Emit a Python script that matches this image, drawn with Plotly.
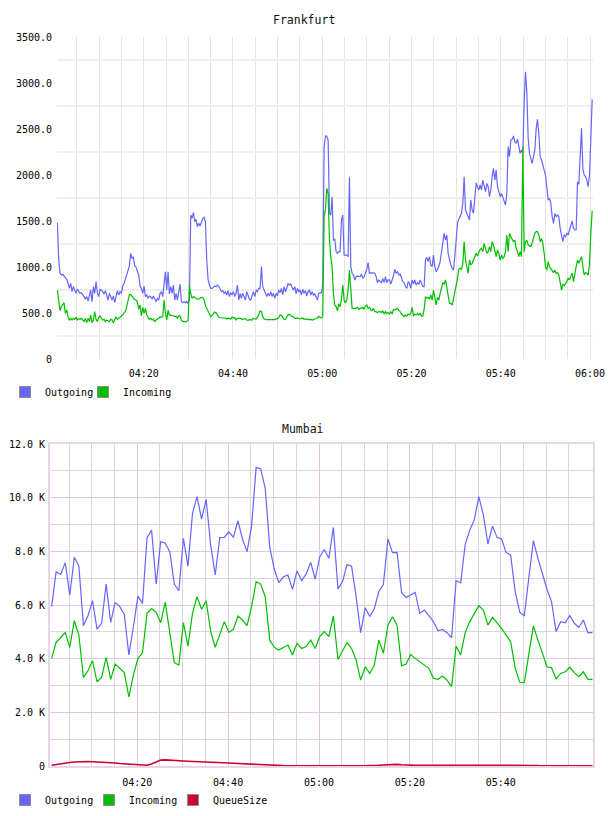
import numpy as np
import pandas as pd
import plotly.graph_objects as go

# ---------------- Frankfurt (top) ----------------
fra_start = "2024-01-01 04:00:39"
fra_step_seconds = 17.93

fra_out = [
    1482, 1076, 931, 913, 920, 900, 880, 866, 822, 768,
    822, 732, 786, 743, 714, 761, 732, 714, 721, 703,
    678, 649, 678, 630, 678, 750, 623, 786, 714, 841,
    721, 678, 757, 750, 732, 707, 743, 678, 641, 714,
    678, 641, 685, 612, 678, 743, 696, 732, 714, 793,
    822, 866, 924, 975, 1011, 1148, 1094, 1105, 1011, 996,
    949, 913, 793, 768, 714, 793, 678, 696, 659, 685,
    678, 649, 685, 659, 623, 659, 641, 714, 732, 678,
    786, 949, 750, 949, 707, 786, 714, 804, 641, 714,
    641, 750, 815, 623, 612, 623, 612, 623, 605, 641,
    1565, 1529, 1591, 1493, 1518, 1438, 1475, 1446, 1493, 1529,
    1540, 1493, 1076, 866, 804, 768, 768, 786, 793, 786,
    804, 793, 750, 732, 743, 714, 732, 696, 743, 678,
    721, 696, 732, 678, 714, 804, 641, 714, 659, 714,
    678, 641, 732, 685, 649, 641, 696, 732, 678, 750,
    732, 768, 768, 1004, 786, 750, 714, 678, 714, 685,
    732, 678, 714, 659, 714, 685, 750, 721, 768, 696,
    786, 732, 768, 822, 804, 815, 779, 750, 786, 707,
    768, 732, 750, 696, 757, 714, 743, 685, 732, 750,
    696, 732, 696, 707, 678, 641, 714, 721, 721, 804,
    2300, 2424, 2424, 2380, 1583, 1565, 1764, 1293, 1300, 1167,
    1149, 1167, 1167, 1511, 1565, 1130, 1130, 1130, 1112, 1975,
    1004, 931, 913, 859, 895, 902, 895, 895, 924, 877,
    895, 931, 975, 1047, 931, 938, 931, 938, 931, 895,
    830, 859, 841, 830, 877, 830, 895, 830, 859, 859,
    815, 859, 902, 975, 931, 949, 913, 924, 877, 841,
    830, 786, 768, 841, 822, 768, 859, 815, 859, 804,
    830, 815, 859, 815, 786, 786, 1076, 1105, 1058, 1112,
    1022, 1004, 1130, 1004, 949, 975, 1004, 1058, 1149, 1275,
    1366, 1293, 1348, 1149, 1076, 1022, 986, 967, 1112, 1293,
    1474, 1518, 1547, 1583, 1692, 1982, 1620, 1583, 1547, 1511,
    1728, 1620, 1583, 1800, 1916, 1873, 1837, 1891, 1837, 1945,
    1873, 1818, 1909, 1873, 1764, 1837, 1982, 2072, 1945, 2054,
    1873, 1800, 1764, 1800, 1764, 1728, 1673, 1800, 2308, 2199,
    2380, 2388, 2424, 2362, 2344, 2388, 2290, 2235, 2271, 2235,
    2800, 3123, 2900, 2400, 2235, 2181, 2126, 2199, 2271, 2500,
    2605, 2450, 2199, 2163, 2091, 2054, 2000, 1873, 1728, 1746,
    1692, 1547, 1473, 1583, 1547, 1565, 1547, 1420, 1330, 1275,
    1348, 1330, 1366, 1348, 1402, 1456, 1500, 1420, 1402, 1402,
    1927, 1900, 2300, 2507, 2072, 2000, 1982, 1945, 1873, 2000,
    2400, 2822,
]

fra_in = [
    750, 623, 525, 569, 587, 612, 496, 533, 460, 424,
    442, 424, 442, 431, 453, 424, 438, 431, 442, 424,
    406, 442, 395, 442, 406, 478, 395, 424, 514, 431,
    406, 453, 467, 442, 424, 431, 406, 424, 417, 406,
    431, 424, 395, 424, 460, 431, 442, 453, 460, 478,
    504, 514, 569, 623, 700, 700, 678, 660, 645, 641,
    620, 540, 587, 470, 560, 496, 551, 478, 460, 431,
    442, 424, 431, 406, 424, 431, 442, 460, 453, 460,
    641, 500, 424, 530, 478, 480, 470, 470, 460, 465,
    440, 470, 470, 420, 406, 406, 406, 406, 420, 793,
    714, 659, 678, 665, 660, 654, 650, 660, 670, 668,
    645, 580, 545, 528, 480, 460, 475, 497, 510, 500,
    475, 456, 448, 448, 448, 445, 445, 435, 445, 442,
    433, 455, 445, 450, 424, 442, 445, 442, 438, 428,
    437, 436, 424, 420, 428, 424, 424, 442, 438, 433,
    455, 480, 523, 515, 460, 436, 428, 428, 424, 424,
    428, 428, 428, 428, 436, 436, 449, 478, 475, 451,
    433, 428, 455, 483, 484, 469, 463, 460, 442, 442,
    446, 440, 436, 442, 446, 431, 433, 437, 428, 433,
    430, 424, 428, 438, 442, 446, 463, 449, 445, 460,
    1547, 1620, 1855, 1800, 1300, 1112, 1000, 714, 587, 569,
    525, 600, 569, 650, 804, 640, 610, 640, 750, 967,
    750, 551, 551, 551, 551, 562, 540, 551, 551, 562,
    540, 575, 587, 551, 562, 533, 525, 551, 515, 515,
    504, 515, 515, 504, 525, 489, 515, 496, 504, 489,
    515, 489, 540, 533, 540, 551, 525, 515, 489, 478,
    460, 478, 467, 489, 478, 496, 562, 467, 489, 478,
    496, 478, 496, 467, 467, 540, 678, 660, 670, 650,
    696, 640, 750, 670, 587, 670, 640, 714, 760, 830,
    815, 859, 780, 660, 605, 605, 587, 650, 720, 800,
    877, 975, 986, 975, 1030, 1275, 1076, 1000, 931, 1076,
    1022, 1040, 1076, 1112, 1149, 1120, 1167, 1192, 1203, 1167,
    1257, 1185, 1149, 1167, 1222, 1167, 1275, 1239, 1185, 1112,
    1185, 1149, 1076, 1130, 1094, 1112, 1167, 1348, 1167, 1366,
    1330, 1293, 1275, 1293, 1203, 1167, 1112, 1167, 1112, 2308,
    1167, 1275, 1293, 1239, 1228, 1222, 1264, 1330, 1366, 1384,
    1384, 1348, 1275, 1311, 1257, 1149, 1004, 967, 1058, 1004,
    975, 960, 938, 967, 931, 938, 913, 830, 750, 815,
    793, 822, 841, 877, 859, 902, 931, 841, 949, 1004,
    1076, 1040, 1076, 1112, 1004, 913, 938, 931, 913, 1040,
    1366, 1612,
]

fra_ytickvals = [0, 500, 1000, 1500, 2000, 2500, 3000, 3500]
fra_yticktext = ["0", "500.0", "1000.0", "1500.0", "2000.0", "2500.0", "3000.0", "3500.0"]

# ---------------- Mumbai (bottom) ----------------
mum_start = "2024-01-01 04:01:10"

mum_out = [
    5940, 7240, 7140, 7580, 6370, 7780, 7450, 5230, 5600, 6160,
    5100, 5320, 6780, 5350, 6100, 5940, 5650, 4140, 5190, 6330,
    6060, 8510, 8790, 6780, 8360, 8300, 7990, 6780, 6530, 8480,
    7450, 9410, 10040, 9200, 9940, 8230, 7120, 8510, 8520, 8730,
    8520, 9140, 8450, 7990, 8940, 11130, 11070, 10350, 8150, 7330,
    6830, 7050, 7120, 6580, 7270, 6910, 7150, 7590, 6970, 7800,
    8070, 7740, 8890, 6600, 6870, 7510, 7450, 6310, 4970, 5900,
    5570, 5870, 6500, 6770, 8460, 7950, 7960, 6460, 6280, 6370,
    6470, 5690, 5810, 5600, 5380, 5040, 5090, 4970, 4780, 6910,
    6830, 8260, 8790, 9170, 10040, 9350, 8270, 8940, 8520, 8460,
    7960, 7860, 6500, 5730, 5590, 7030, 8400, 7740, 7120, 6580,
    6120, 5010, 5380, 5340, 5600, 5320, 5170, 5440, 4970, 4970,
]

mum_in = [
    4010, 4610, 4790, 4980, 4420, 5420, 4880, 3300, 3550, 3920,
    3140, 3300, 4050, 3230, 3800, 3640, 3480, 2580, 3390, 4010,
    4220, 5690, 5870, 5730, 5340, 6100, 4980, 3850, 3760, 5340,
    4470, 5690, 6310, 5840, 6160, 5010, 4420, 4880, 5380, 4980,
    5090, 5590, 5440, 5230, 5940, 6870, 6780, 6310, 4690, 4420,
    4320, 4420, 4510, 4140, 4570, 4380, 4450, 4690, 4380, 4820,
    5010, 4820, 5590, 3970, 4280, 4600, 4380, 3950, 3200, 3700,
    3450, 3760, 4690, 4200, 5250, 5560, 5250, 3730, 3800, 4160,
    4010, 3890, 3790, 3640, 3270, 3230, 3350, 3200, 2960, 4470,
    4140, 4970, 5380, 5690, 5970, 5810, 5250, 5540, 5340, 5130,
    4880, 4630, 3640, 3120, 3110, 4140, 5220, 4690, 4160, 3700,
    3660, 3240, 3450, 3510, 3680, 3480, 3330, 3510, 3230, 3230,
]

mum_queue = [
    30, 60, 90, 110, 130, 150, 160, 165, 165, 160,
    155, 145, 135, 120, 110, 95, 80, 65, 50, 35,
    20, 30, 75, 160, 220, 230, 225, 215, 200, 185,
    175, 170, 170, 165, 155, 145, 135, 125, 115, 110,
    100, 90, 80, 75, 70, 70, 60, 45, 35, 25,
    20, 15, 12, 10, 10, 10, 10, 10, 10, 10,
    10, 10, 10, 10, 10, 10, 10, 10, 10, 10,
    10, 15, 25, 40, 55, 65, 60, 45, 30, 25,
    25, 30, 30, 25, 25, 30, 25, 20, 25, 30,
    35, 35, 35, 35, 40, 40, 45, 45, 40, 40,
    35, 30, 25, 20, 20, 25, 20, 15, 10, 10,
    10, 10, 10, 10, 10, 10, 10, 10, 10, 10,
]

mum_ytickvals = [0, 2000, 4000, 6000, 8000, 10000, 12000]
mum_yticktext = ["0", "2.0 K", "4.0 K", "6.0 K", "8.0 K", "10.0 K", "12.0 K"]

# ---------------- colours / fonts ----------------
C_OUT = "#6666ff"
C_IN = "#00bf00"
C_Q = "#cc0033"
MONO = "DejaVu Sans Mono"

W, H = 608, 816


def px_x(p):
    return p / W


def px_y(p):
    return 1 - p / H


fra_times = pd.Timestamp(fra_start) + pd.to_timedelta(np.arange(len(fra_out)) * fra_step_seconds, unit="s")
mum_times = pd.date_range(mum_start, periods=len(mum_out), freq="1min")

fmt = "%Y-%m-%d %H:%M:%S"
fra_major = [t.strftime(fmt) for t in pd.date_range("2024-01-01 04:20", "2024-01-01 06:00", freq="20min")]
fra_minor = [t.strftime(fmt) for t in pd.date_range("2024-01-01 04:05", "2024-01-01 06:00", freq="5min")]
mum_major = [t.strftime(fmt) for t in pd.date_range("2024-01-01 04:20", "2024-01-01 05:40", freq="20min")]
mum_minor = [t.strftime(fmt) for t in pd.date_range("2024-01-01 04:05", "2024-01-01 05:55", freq="5min")
             if t.minute % 20 != 0]

fig = go.Figure()

# top lines
fig.add_trace(go.Scatter(x=fra_times, y=fra_out, mode="lines", line=dict(color=C_OUT, width=1.2),
                         xaxis="x", yaxis="y", showlegend=False, name="Outgoing"))
fig.add_trace(go.Scatter(x=fra_times, y=fra_in, mode="lines", line=dict(color=C_IN, width=1.2),
                         xaxis="x", yaxis="y", showlegend=False, name="Incoming"))
# bottom lines
fig.add_trace(go.Scatter(x=mum_times, y=mum_out, mode="lines", line=dict(color=C_OUT, width=1.2),
                         xaxis="x2", yaxis="y2", showlegend=False, name="Outgoing"))
fig.add_trace(go.Scatter(x=mum_times, y=mum_in, mode="lines", line=dict(color=C_IN, width=1.2),
                         xaxis="x2", yaxis="y2", showlegend=False, name="Incoming"))
fig.add_trace(go.Scatter(x=mum_times, y=mum_queue, mode="lines", line=dict(color=C_Q, width=1.6),
                         xaxis="x2", yaxis="y2", showlegend=False, name="QueueSize"))


# legend entries (square swatches), one legend box per entry for exact placement
def legend_entry(name, color, legend, xa, ya):
    fig.add_trace(go.Scatter(x=[None], y=[None], mode="markers", name=name,
                             marker=dict(symbol="square", size=11, color=color,
                                         line=dict(color="#8c8c8c", width=1)),
                             xaxis=xa, yaxis=ya, legend=legend, showlegend=True))


legend_entry("Outgoing", C_OUT, "legend", "x", "y")
legend_entry("Incoming", C_IN, "legend2", "x", "y")
legend_entry("Outgoing", C_OUT, "legend3", "x2", "y2")
legend_entry("Incoming", C_IN, "legend4", "x2", "y2")
legend_entry("QueueSize", C_Q, "legend5", "x2", "y2")

tickfont = dict(family=MONO, size=10, color="#000000")


def leg(square_center_x, center_y):
    return dict(orientation="h", x=px_x(square_center_x - 24), y=px_y(center_y),
                xanchor="left", yanchor="middle",
                font=dict(family=MONO, size=10, color="#000000"), bgcolor="rgba(0,0,0,0)",
                itemwidth=30, itemclick=False, itemdoubleclick=False)


fig.update_layout(
    width=W, height=H,
    margin=dict(l=0, r=0, t=0, b=0, pad=0, autoexpand=False),
    paper_bgcolor="white", plot_bgcolor="white",
    font=dict(family=MONO, size=10, color="#000000"),
    xaxis=dict(domain=[px_x(57), px_x(593)], anchor="y", type="date",
               range=["2024-01-01 04:00:34", "2024-01-01 06:00:40"],
               tickmode="array", tickvals=fra_major, tickformat="%H:%M",
               showgrid=True, gridcolor="#e3e3e3", gridwidth=1,
               minor=dict(tickmode="array", tickvals=fra_minor, showgrid=True,
                          gridcolor="#e3e3e3", gridwidth=1),
               zeroline=False, showline=False, ticks="", tickfont=tickfont,
               ticklabelstandoff=7, fixedrange=True),
    yaxis=dict(domain=[px_y(359), px_y(37)], anchor="x",
               range=[0, 3500], tickmode="array", tickvals=fra_ytickvals, ticktext=fra_yticktext,
               showgrid=False,
               minor=dict(tickmode="array", tickvals=[250, 750, 1250, 1750, 2250, 2750, 3250],
                          showgrid=True, gridcolor="#efefef", gridwidth=2),
               zeroline=False, showline=False, ticks="", tickfont=tickfont,
               ticklabelstandoff=4, fixedrange=True),
    xaxis2=dict(domain=[px_x(50), px_x(593)], anchor="y2", type="date",
                range=["2024-01-01 04:00:49", "2024-01-01 06:00:17"],
                tickmode="array", tickvals=mum_major, tickformat="%H:%M",
                showgrid=True, gridcolor="#e0c8e0", gridwidth=1,
                minor=dict(tickmode="array", tickvals=mum_minor, showgrid=True,
                           gridcolor="#dcd6dc", gridwidth=1),
                zeroline=False, showline=True, mirror=True, linecolor="#e8d6e8", linewidth=2,
                ticks="", tickfont=tickfont, ticklabelstandoff=6, fixedrange=True),
    yaxis2=dict(domain=[px_y(766), px_y(444)], anchor="x2",
                range=[0, 12000], tickmode="array", tickvals=mum_ytickvals, ticktext=mum_yticktext,
                showgrid=True, gridcolor="#e0c8e0", gridwidth=1,
                minor=dict(tickmode="array", tickvals=[1000, 3000, 5000, 7000, 9000, 11000],
                           showgrid=True, gridcolor="#dcd6dc", gridwidth=1),
                zeroline=False, showline=True, mirror=True, linecolor="#e8d6e8", linewidth=2,
                ticks="", tickfont=tickfont, ticklabelstandoff=1, fixedrange=True),
    legend=leg(29, 392),
    legend2=leg(107, 392),
    legend3=leg(29, 800),
    legend4=leg(113, 800),
    legend5=leg(197, 800),
    annotations=[
        dict(text="Frankfurt", x=px_x(304), y=px_y(20), xref="paper", yref="paper",
             showarrow=False, xanchor="center", yanchor="middle",
             font=dict(family=MONO, size=11.5, color="#111111")),
        dict(text="Mumbai", x=px_x(303), y=px_y(429), xref="paper", yref="paper",
             showarrow=False, xanchor="center", yanchor="middle",
             font=dict(family=MONO, size=11.5, color="#111111")),
    ],
)

fig.write_html("out.html")
